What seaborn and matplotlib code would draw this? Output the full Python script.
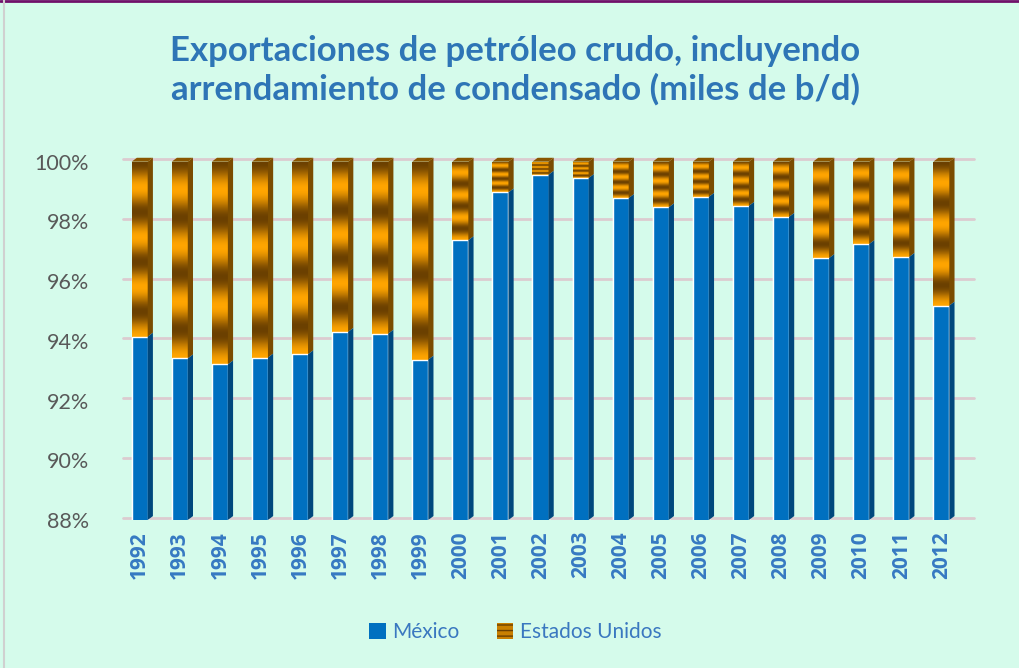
import numpy as np
import pandas as pd
import matplotlib.pyplot as plt
import seaborn as sns
from matplotlib.patches import Patch, Polygon
from matplotlib.lines import Line2D
from matplotlib.colors import LinearSegmentedColormap

# data (share of exports, %)
years = [str(y) for y in range(1992, 2013)]
mexico = [94.14, 93.41, 93.21, 93.44, 93.55, 94.30, 94.24, 93.37, 97.37, 98.97,
          99.56, 99.45, 98.78, 98.47, 98.82, 98.52, 98.15, 96.77, 97.24, 96.81, 95.18]
estados_unidos = [100 - m for m in mexico]

title = "Exportaciones de petróleo crudo, incluyendo\narrendamiento de condensado (miles de b/d)"
series_names = ["México", "Estados Unidos"]

bg = "#d5fbeb"
blue = "#0070c0"
blue_side = "#00487d"
orange = "#ffa500"
brown = "#6b4000"
title_blue = "#2e75b6"

df = pd.DataFrame({"year": years, "mexico": mexico,
                   "total": [m + e for m, e in zip(mexico, estados_unidos)]})

sns.set_theme(style="white")
plt.rcParams["font.family"] = ["Lato", "DejaVu Sans"]

fig = plt.figure(figsize=(10.2, 6.68), dpi=100, facecolor=bg)
ax = fig.add_axes([0.1173, 0.2216, 0.8252, 0.5364])
ax.set_facecolor(bg)

sns.barplot(data=df, x="year", y="total", color=orange, width=0.4,
            saturation=1, ax=ax, zorder=2)
sns.barplot(data=df, x="year", y="mexico", color=blue, width=0.4,
            saturation=1, ax=ax, zorder=4)

ymin, ymax = 88, 100
n = len(years)
orange_bars = ax.patches[:n]
blue_bars = ax.patches[n:2 * n]

# banded gold gradient for the US segment
gold = LinearSegmentedColormap.from_list("gold", [brown, "#b87400", orange])
t = np.linspace(0, 1, 200)
grad = ((1 + np.cos(2 * np.pi * 3.5 * t)) / 2).reshape(-1, 1)

dx, dy = 0.13, 0.13  # fake 3D depth
for ob, bb in zip(orange_bars, blue_bars):
    x0 = ob.get_x()
    w = ob.get_width()
    lo = bb.get_height()
    hi = ob.get_height()
    im = ax.imshow(grad, cmap=gold, aspect="auto", extent=(x0, x0 + w, lo, hi),
                   origin="lower", zorder=3, interpolation="bilinear")
    im.set_clip_path(ob)
    # side faces
    ax.add_patch(Polygon([(x0 + w, lo), (x0 + w + dx, lo + dy),
                          (x0 + w + dx, hi + dy), (x0 + w, hi)],
                         closed=True, facecolor="#7a4c00", edgecolor="none",
                         zorder=3, clip_on=False))
    ax.add_patch(Polygon([(x0 + w, ymin), (x0 + w + dx, ymin + dy),
                          (x0 + w + dx, lo + dy), (x0 + w, lo)],
                         closed=True, facecolor=blue_side, edgecolor="none",
                         zorder=4, clip_on=False))
    # top face
    ax.add_patch(Polygon([(x0, hi), (x0 + dx, hi + dy), (x0 + w + dx, hi + dy),
                          (x0 + w, hi)], closed=True, facecolor="#8a5600",
                         edgecolor="none", zorder=3, clip_on=False))

ax.set_xlim(-0.5, n - 0.5)
ax.set_ylim(ymin, ymax)

# grid
ax.set_yticks(np.arange(88, 101, 2))
ax.set_yticklabels([f"{v}%" for v in range(88, 101, 2)])
for v in range(88, 101, 2):
    ax.plot([-0.5 + dx * 0.6, n - 0.5 + dx * 2.5], [v + dy * 0.6, v + dy * 0.6],
            color="#dccbd0", lw=2, zorder=1, clip_on=False)
ax.grid(False)
for s in ax.spines.values():
    s.set_visible(False)

ax.tick_params(axis="y", colors="#595959", labelsize=15.5, length=0, pad=22)
ax.set_xticks(range(n))
ax.set_xticklabels(years, rotation=90, fontsize=15, color="#3679c2",
                   family=["Open Sans", "DejaVu Sans"], fontweight="bold")
ax.tick_params(axis="x", length=0, pad=8)
ax.set_xlabel("")
ax.set_ylabel("")

fig.text(0.505, 0.895, title, ha="center", va="center", fontsize=25,
         fontweight="bold", color=title_blue, linespacing=1.2)

handles = [Patch(facecolor=blue, edgecolor="none"),
           Patch(facecolor="#c98000", edgecolor=brown, hatch="---", lw=0)]
leg = fig.legend(handles, series_names, loc="center", bbox_to_anchor=(0.505, 0.054),
                 ncol=2, frameon=False, fontsize=15, handlelength=0.8,
                 handleheight=0.8, handletextpad=0.3, columnspacing=1.8)
for txt in leg.get_texts():
    txt.set_color("#3a78c0")

# chart border
fig.add_artist(Line2D([0, 1], [0.998, 0.998], color="#70106a", lw=2))
fig.add_artist(Line2D([0.004, 0.004], [0, 1], color="#d0d0d0", lw=1.5))

fig.savefig("out.png", dpi=100, facecolor=bg)
